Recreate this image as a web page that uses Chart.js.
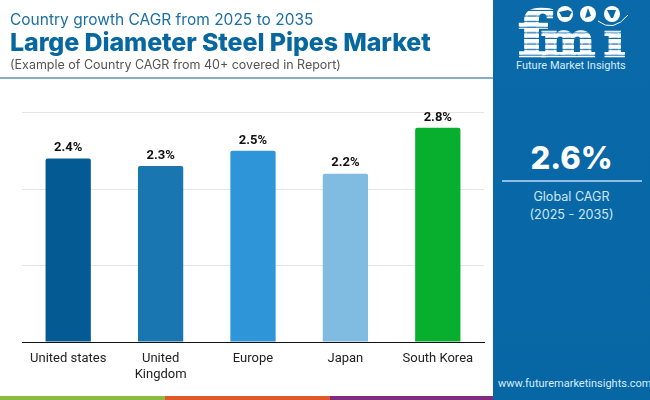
<!DOCTYPE html>
<html><head><meta charset="utf-8">
<script src="https://cdn.jsdelivr.net/npm/chart.js@4"></script>
<style>
html,body{margin:0;padding:0;background:#fff;overflow:hidden}
#wrap{position:relative;width:650px;height:400px;overflow:hidden;font-family:Inter,"Open Sans",sans-serif}
canvas{position:absolute;left:0;top:0}
.t{position:absolute;white-space:nowrap}
#panel{position:absolute;left:493px;top:0;width:157px;height:400px;background:linear-gradient(180deg,#0a69a8,#0767a5)}
</style></head><body>
<div id="wrap">
<canvas id="c" width="650" height="400"></canvas>
<div class="t" style="left:10px;top:10px;font-size:15.5px;color:#1a6fa5;font-weight:400">Country growth CAGR from 2025 to 2035</div>
<div class="t" style="left:10px;top:27px;font-size:25px;color:#07679f;font-weight:800;letter-spacing:-.1px">Large Diameter Steel Pipes Market</div>
<div class="t" style="left:10px;top:57px;font-size:12.5px;color:#555">(Example of Country CAGR from 40+ covered in Report)</div>
<div style="position:absolute;left:0;top:77px;width:493px;height:2px;background:#85adc5"></div>
<div style="position:absolute;left:0;top:396px;width:165px;height:4px;background:#8bbb41"></div>
<div style="position:absolute;left:165px;top:396px;width:165px;height:4px;background:#e0592a"></div>
<div style="position:absolute;left:330px;top:396px;width:163px;height:4px;background:#7f2c80"></div>
<div id="panel"></div>
<svg style="position:absolute;left:493px;top:0" width="157" height="75" viewBox="493 0 157 75">
<defs><pattern id="st" width="10" height="5.6" patternUnits="userSpaceOnUse" y="11"><rect width="10" height="4.4" fill="#fff"/></pattern></defs>
<g stroke="url(#st)" stroke-width="2.4" fill="url(#st)" font-family="'DejaVu Serif'" font-weight="700">
<text x="518" y="55.5" font-size="62" textLength="30" lengthAdjust="spacingAndGlyphs">f</text>
<text x="541" y="55.5" font-size="47" textLength="54" lengthAdjust="spacingAndGlyphs">m</text>
<text x="604" y="55.5" font-size="47" textLength="21" lengthAdjust="spacingAndGlyphs">ı</text>
</g>
<circle cx="565" cy="14" r="8" fill="#fff"/><circle cx="588" cy="14" r="8" fill="#fff"/><circle cx="612" cy="14" r="8" fill="#fff"/>
<path d="M559 12l9-2 4 2-3 5-7 0z" fill="#0868a6"/><path d="M588 8l3 8-6 2z" fill="#0868a6"/><path d="M607 10h9l-3 8-2 0z" fill="#0868a6"/>
<path d="M598 21q15 12 30-6" fill="none" stroke="#fff" stroke-width="1"/>
<text x="516" y="69" font-family="Roboto" font-size="11" fill="#d8ecf9">Future Market Insights</text>
</svg>
<div class="t" style="left:493px;width:157px;text-align:center;top:139px;font-size:31px;font-weight:800;color:#fff">2.6%</div>
<div style="position:absolute;left:502px;top:180px;width:140px;height:1.5px;background:#8dbce4"></div>
<div class="t" style="left:493px;width:157px;text-align:center;top:188px;font-size:12.6px;line-height:18px;color:#cfe6f8;white-space:normal">Global CAGR<br>(2025 - 2035)</div>
<div class="t" style="left:498px;top:377px;font-size:11px;font-family:Roboto;color:#d8ecf9">www.futuremarketinsights.com</div>
</div>
<script>
const categories=[["United states"],["United","Kingdom"],["Europe"],["Japan"],["South Korea"]];
const values=[2.4,2.3,2.5,2.2,2.8];
const barColors=["#045a92","#1a76b0","#2e96d8","#80bbe2","#08ae2e"];
const yTicks=[0,1,2,3];
const valueLabels={id:"valueLabels",afterDatasetsDraw(ch){
  const c=ch.ctx,m=ch.getDatasetMeta(0);
  c.save();c.font="700 13px Roboto";c.fillStyle="#111";c.textAlign="center";c.textBaseline="bottom";
  m.data.forEach((b,i)=>c.fillText(values[i].toFixed(1)+"%",b.x,b.y-4));
  c.restore();}};
new Chart(document.getElementById("c"),{
  type:"bar",
  data:{labels:categories,datasets:[{data:values,backgroundColor:barColors,barPercentage:.49,categoryPercentage:1,borderRadius:{topLeft:2,topRight:2,bottomLeft:0,bottomRight:0},borderSkipped:"bottom"}]},
  plugins:[valueLabels],
  options:{responsive:false,animation:false,
    layout:{padding:{left:22,right:166,top:112.5,bottom:0}},
    plugins:{legend:{display:false},tooltip:{enabled:false}},
    scales:{
      x:{afterFit(s){s.height=58},grid:{display:false,drawTicks:false},border:{color:"#111",width:1},
         ticks:{color:"#222",font:{family:"Roboto",size:13},padding:9,maxRotation:0,autoSkip:false}},
      y:{min:0,max:3,afterBuildTicks(s){s.ticks=yTicks.map(v=>({value:v}))},afterFit(s){s.width=0},
         grid:{color:"#e4e4e4",drawTicks:false},border:{display:false},ticks:{display:false}}
    }}
});
</script>
</body></html>
